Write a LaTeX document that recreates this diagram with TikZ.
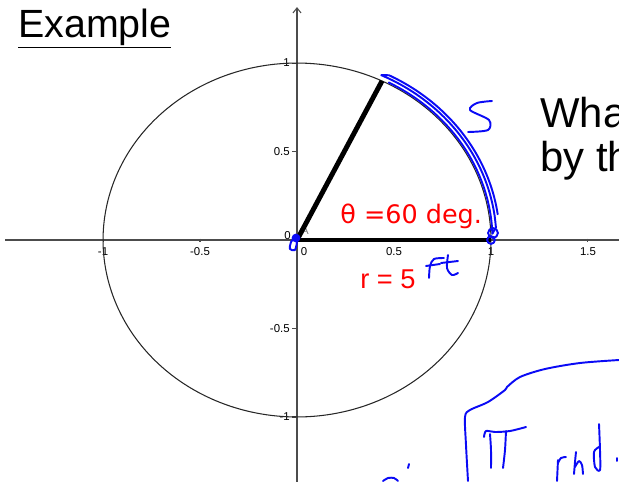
\documentclass[tikz,border=0pt]{standalone}
\usepackage{fontspec}
\setmainfont{Liberation Sans}
\newfontfamily\dejavu{DejaVu Sans}
\usepackage{xcolor}
\usetikzlibrary{arrows.meta}

\definecolor{axisgray}{gray}{0.3}
\definecolor{inkblue}{RGB}{10,10,245}

\begin{document}
\begin{tikzpicture}[
    x=0.02cm, y=-0.02cm,
    every node/.style={inner sep=0pt},
    ticklbl/.style={font=\fontsize{6.5}{7}\selectfont},
    axis/.style={axisgray, line width=0.6pt},
    unitc/.style={black!85, line width=0.6pt},
    seg/.style={line width=2.8pt},
    ink/.style={inkblue, line width=1.1pt, line cap=round, line join=round},
    redtxt/.style={red, font=\fontsize{15.5}{17}\selectfont},
]
\useasboundingbox (0,0) rectangle (619,481);

\node[anchor=base west, font=\fontsize{22.4}{26}\selectfont] (title) at (18,37) {\underline{Example}};
\node[anchor=base west, font=\fontsize{23.8}{28}\selectfont] (qone) at (540,127) {Wha};
\node[anchor=base west, font=\fontsize{23.8}{28}\selectfont] (qtwo) at (540,171) {by th};

\begin{scope}[shift={(297,240)}, x=3.88cm, y=3.54cm]
  \coordinate (O)  at (0,0);
  \coordinate (xl) at (-1.505,0);
  \coordinate (xr) at (1.72,0);
  \coordinate (yb) at (0,-1.40);
  \coordinate (yt) at (0,1.316);
  \coordinate (E)  at (1,0);
  \coordinate (P)  at ({cos(64)},{sin(64)});

  \draw[axis] (xl) -- (xr);
  \draw[axis, -{Straight Barb[length=1mm, width=1.6mm]}] (yb) -- (yt);
  \foreach \t in {-1,-0.5,0.5,1,1.5}
    \draw[axis] (\t,0.008) -- (\t,-0.012) node[ticklbl, black, anchor=north, yshift=-3pt] {\t};
  \foreach \t in {1,0.5,-0.5,-1}
    \draw[axis] (0,\t) -- (-0.026,\t) node[ticklbl, black, anchor=east, xshift=-1pt] {\t};
  \node[ticklbl, anchor=north west] (zx) at (0.018,-0.04) {0};
  \node[ticklbl, anchor=east] (zy) at (-0.03,0.023) {0};
  \node[ticklbl, gray, anchor=west] (ptA) at (0.02,0.056) {A};

  \draw[unitc] plot[smooth, domain=0:360, samples=150] ({cos(\x)},{sin(\x)}) -- cycle;
  \draw[seg] (O) -- (P);
  \draw[seg] (O) -- (E);

  \draw[ink] plot[smooth, domain=62:2, samples=20] ({1.008*cos(\x)},{1.008*sin(\x)})
          -- plot[smooth, domain=4:65, samples=20] ({1.028*cos(\x)},{1.028*sin(\x)})
          -- plot[smooth, domain=63:8, samples=20] ({1.045*cos(\x)},{1.045*sin(\x)});
\end{scope}

\node[redtxt, font=\dejavu\fontsize{14.5}{16}\selectfont, anchor=base west] (theta) at (340,223) {θ =60 deg.};
\node[redtxt, anchor=base west] (radius) at (360,288) {r = 5};

% handwriting
\draw[ink] plot[smooth] coordinates {(492,101) (477,103) (470,110) (489,120) (488,130) (468,132)};
\draw[ink] (493,233) circle[radius=2.8pt];
\draw[ink] (491,240) circle[radius=2.2pt];
\fill[inkblue] (296,238) circle[radius=2.5pt];
\draw[ink] plot[smooth] coordinates {(297,242) (295,250) (290,249) (291,242) (296,236)};
\draw[ink] plot[smooth] coordinates {(429,278) (430,266) (434,259) (444,258)};
\draw[ink] (426,266) -- (440,264);
\draw[ink] plot[smooth] coordinates {(448,255) (447,268) (452,275) (458,273)};
\draw[ink] (441,263) -- (458,261);
\draw[ink] plot[smooth] coordinates {(468,481) (466,445) (465,417) (470,410) (488,402) (505,390) (507,387) (520,377) (545,369) (580,363) (619,360)};
\draw[ink] plot[smooth] coordinates {(484,437) (486,431) (495,432) (510,431) (526,427)};
\draw[ink] plot[smooth] coordinates {(490,434) (491,450) (491,468)};
\draw[ink] plot[smooth] coordinates {(506,431) (505,450) (503,468)};
\draw[ink] (557,481) -- (558,460);
\draw[ink] plot[smooth] coordinates {(558,463) (561,458) (566,457)};
\draw[ink] plot[smooth] coordinates {(576,452) (575,462) (574,474)};
\draw[ink] plot[smooth] coordinates {(575,467) (579,461) (582,465) (583,474)};
\draw[ink] plot[smooth] coordinates {(599,424) (600,450) (600,470) (595,467) (594,452) (599,447)};
\draw[ink] (617,458) -- (617,461);
\draw[ink] (409,464) -- (408,468);
\draw[ink] plot[smooth] coordinates {(383,481) (388,478) (394,478) (398,481)};
\end{tikzpicture}
\end{document}
